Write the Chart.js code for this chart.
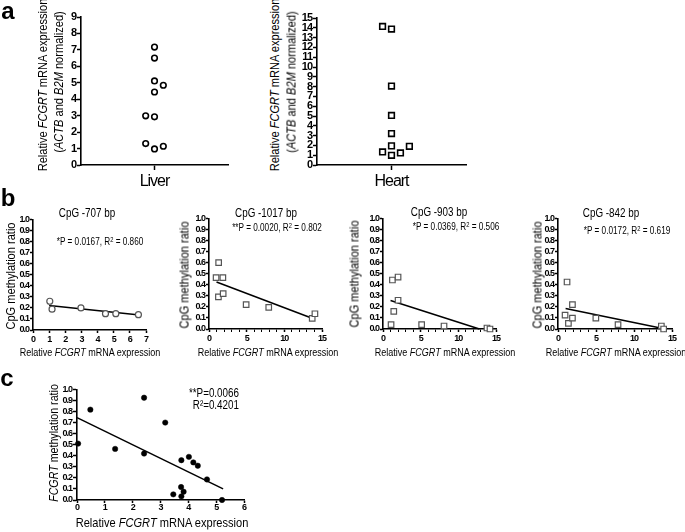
<!DOCTYPE html>
<html><head><meta charset="utf-8">
<script src="https://cdn.jsdelivr.net/npm/chart.js@4.4.1/dist/chart.umd.min.js"></script>
<style>
html,body{margin:0;padding:0;background:#fff;}
#root{position:relative;width:685px;height:532px;overflow:hidden;background:#fff;}
#root div.t{position:absolute;white-space:nowrap;line-height:1;color:#000;}
#root canvas{position:absolute;}
.sp{position:relative;top:-0.42em;font-size:0.7em;}
</style></head><body><div id="root"></div>
<script>
// ---------------- data ----------------
const tissueLabels = ['Liver', 'Heart'];
const liverExpr = [7.17, 6.50, 5.11, 4.85, 4.44, 2.99, 2.93, 1.30, 0.98, 1.14];
const liverCol  = [1, 1, 1, 1.12, 1, 0.88, 1, 0.88, 1, 1.12];
const heartExpr = [14.14, 13.87, 8.06, 5.06, 3.21, 1.95, 1.91, 1.33, 0.99, 1.23];
const heartCol  = [0.88, 1, 1, 1, 1, 1, 1.24, 0.88, 1, 1.12];

const cpgTitles = ['CpG -707 bp', 'CpG -1017 bp', 'CpG -903 bp', 'CpG -842 bp'];
const cpgStats = ['*P = 0.0167, R<span class="sp">2</span> = 0.860',
                  '**P = 0.0020, R<span class="sp">2</span> = 0.802',
                  '*P = 0.0369, R<span class="sp">2</span> = 0.506',
                  '*P = 0.0172, R<span class="sp">2</span> = 0.619'];

const cpg707X = [1.04, 1.18, 2.97, 4.49, 5.13, 6.53];
const cpg707Y = [0.26, 0.188, 0.20, 0.148, 0.148, 0.139];
const cpg707Fit = [[1.0, 0.222], [6.6, 0.135]];

const cpg1017X = [0.94, 1.84, 1.25, 1.88, 4.93, 7.93, 13.7, 14.06, 1.28];
const cpg1017Y = [0.464, 0.464, 0.29, 0.32, 0.22, 0.195, 0.096, 0.138, 0.60];
const cpg1017Fit = [[1.0, 0.425], [13.6, 0.10]];

const cpg903X = [1.25, 2.0, 2.0, 1.43, 1.07, 5.13, 8.1, 13.8, 14.2];
const cpg903Y = [0.443, 0.47, 0.26, 0.159, 0.039, 0.039, 0.027, 0.009, 0.0];
const cpg903Fit = [[1.0, 0.257], [12.8, 0.0]];

const cpg842X = [1.19, 0.93, 1.37, 1.9, 1.9, 4.98, 7.9, 13.6, 13.9];
const cpg842Y = [0.425, 0.126, 0.051, 0.22, 0.099, 0.099, 0.039, 0.027, 0.0];
const cpg842Fit = [[1.0, 0.185], [13.8, 0.005]];

const allExprX = [0.04, 0.48, 1.37, 2.41, 2.41, 3.17, 3.46, 3.75, 4.02, 4.18, 4.34, 3.74, 3.83, 3.75, 4.67, 5.21];
const allMethY = [0.51, 0.817, 0.462, 0.925, 0.42, 0.70, 0.051, 0.36, 0.39, 0.34, 0.31, 0.117, 0.075, 0.033, 0.186, 0.0];
const allFit = [[0.0, 0.745], [5.25, 0.10]];
const allStats = ['**P=0.0066', 'R²=0.4201'];

// ---------------- fonts ----------------
function detectNarrow() {
  const ctx = document.createElement('canvas').getContext('2d');
  const s = 'Relative FCGRT mRNA expression';
  ctx.font = "40px monospace"; const a = ctx.measureText(s).width;
  ctx.font = "40px 'Liberation Sans Narrow', monospace"; const b = ctx.measureText(s).width;
  return Math.abs(a - b) > 1;
}
const NARROW = detectNarrow();
const FAM = NARROW ? "'Liberation Sans Narrow', 'Liberation Sans', Arial, sans-serif" : "'Liberation Sans', Arial, sans-serif";
const SX = NARROW ? 1 : 0.82;
const LS = NARROW ? '0px' : '-1px';
const root = document.getElementById('root');

function label(html, x, y, size, o = {}) {
  const d = document.createElement('div');
  d.className = 't';
  d.innerHTML = html;
  const fam = o.wide ? "'Liberation Sans', Arial, sans-serif" : FAM;
  const sx = o.wide ? 1 : SX;
  const tr = o.right ? 'translate(-100%,-50%)' : 'translate(-50%,-50%)';
  d.style.left = x + 'px';
  d.style.top = y + 'px';
  d.style.font = (o.bold ? 'bold ' : '') + size + 'px ' + fam;
  d.style.transformOrigin = o.right ? '100% 50%' : '50% 50%';
  d.style.transform = tr + (o.rot ? ' rotate(-90deg)' : '') + ' scaleX(' + sx + ')';
  root.appendChild(d);
}

// ---------------- chart helpers ----------------
const BLACK = '#000';
const spacingPlugin = {
  id: 'tightText',
  beforeUpdate(ch) { ch.ctx.letterSpacing = LS; },
  beforeDraw(ch) { ch.ctx.letterSpacing = LS; }
};
function axis(o) {
  return {
    type: 'linear', min: o.min, max: o.max,
    ticks: {
      stepSize: o.step, autoSkip: false, color: BLACK, padding: o.pad, maxRotation: 0, minRotation: 0,
      font: { family: FAM, size: o.size, weight: o.weight || 'bold' },
      callback: o.cb
    },
    grid: { display: true, drawOnChartArea: false, drawTicks: true, tickLength: o.tl,
            tickColor: BLACK, tickWidth: o.tw || 1.5 },
    border: { display: true, color: BLACK, width: 1.6 }
  };
}
function toPts(xs, ys) { return xs.map((x, i) => ({ x: x, y: ys[i] })); }
function fitSet(f) {
  return { data: f.map(p => ({ x: p[0], y: p[1] })), showLine: true, pointRadius: 0,
           borderColor: BLACK, borderWidth: 1.5, clip: false };
}
function makeChart(r, datasets, xAx, yAx) {
  const W = (r.x1 - r.x0) + r.Lw + r.Rp, H = (r.y1 - r.y0) + r.Tp + r.Bh;
  const c = document.createElement('canvas');
  c.width = W; c.height = H;
  c.style.left = (r.x0 - r.Lw) + 'px'; c.style.top = (r.y0 - r.Tp) + 'px';
  c.style.width = W + 'px'; c.style.height = H + 'px';
  root.appendChild(c);
  xAx.afterFit = s => { s.height = r.Bh; };
  yAx.afterFit = s => { s.width = r.Lw; };
  new Chart(c, {
    type: 'scatter',
    data: { datasets: datasets },
    plugins: [spacingPlugin],
    options: {
      responsive: false, animation: false, events: [],
      layout: { padding: { left: 0, top: r.Tp, right: r.Rp, bottom: 0 } },
      plugins: { legend: { display: false }, tooltip: { enabled: false } },
      scales: { x: xAx, y: yAx }
    }
  });
}

// ---------------- panel a ----------------
function colAxis(name) {
  return axis({ min: 0, max: 2, step: 1, size: 16, weight: 'normal', tl: 5, pad: 2,
                cb: v => (v === 1 ? name : null) });
}
makeChart({ x0: 81, y0: 17, x1: 228, y1: 165, Lw: 40, Tp: 8, Rp: 6, Bh: 32 },
  [{ data: toPts(liverCol, liverExpr), pointStyle: 'circle', pointRadius: 2.8, pointBorderWidth: 1.6,
     pointBorderColor: BLACK, pointBackgroundColor: '#fff', clip: false }],
  colAxis(tissueLabels[0]),
  axis({ min: 0, max: 9, step: 1, size: 11, tl: 4, pad: 1, cb: v => v }));

makeChart({ x0: 317, y0: 18, x1: 466, y1: 165, Lw: 30, Tp: 8, Rp: 6, Bh: 32 },
  [{ data: toPts(heartCol, heartExpr), pointStyle: 'rect', pointRadius: 4.0, pointBorderWidth: 1.6,
     pointBorderColor: BLACK, pointBackgroundColor: '#fff', clip: false }],
  colAxis(tissueLabels[1]),
  axis({ min: 0, max: 15, step: 1, size: 11, tl: 4, pad: 1, cb: v => v }));

label('Relative <i>FCGRT</i> mRNA expression', 42, 85, 13.5, { rot: true });
label('(<i>ACTB</i> and <i>B2M</i> normalized)', 58, 82, 13.5, { rot: true });
label('Relative <i>FCGRT</i> mRNA expression', 273.5, 85, 13.5, { rot: true });
label('(<i>ACTB</i> and <i>B2M</i> normalized)', 290.5, 82, 13.5, { rot: true });

// ---------------- panel b ----------------
const cpgRects = [
  { x0: 33, y0: 219, x1: 146, y1: 330, Lw: 28, Tp: 6, Rp: 8, Bh: 18 },
  { x0: 209, y0: 218, x1: 322, y1: 329, Lw: 28, Tp: 6, Rp: 8, Bh: 18 },
  { x0: 383, y0: 218, x1: 496, y1: 329, Lw: 28, Tp: 6, Rp: 8, Bh: 18 },
  { x0: 558, y0: 218, x1: 672, y1: 329, Lw: 28, Tp: 6, Rp: 8, Bh: 18 }
];
const cpgData = [[cpg707X, cpg707Y, cpg707Fit, 7], [cpg1017X, cpg1017Y, cpg1017Fit, 15],
                 [cpg903X, cpg903Y, cpg903Fit, 15], [cpg842X, cpg842Y, cpg842Fit, 15]];
cpgData.forEach((d, i) => {
  const isLiver = i === 0;
  const xmax = d[3];
  makeChart(cpgRects[i],
    [{ data: toPts(d[0], d[1]), pointStyle: isLiver ? 'circle' : 'rect',
       pointRadius: isLiver ? 3 : 3.9, pointBorderWidth: 1.2, pointBorderColor: '#555',
       pointBackgroundColor: '#fff', clip: false },
     fitSet(d[2])],
    axis({ min: 0, max: xmax, step: 1, size: 9, tl: 3, pad: 1,
           tw: ctx => (xmax === 7 || (ctx.tick && ctx.tick.value % 5 === 0)) ? 1.5 : 1,
           cb: v => (xmax === 7 || v % 5 === 0) ? v : '' }),
    axis({ min: 0, max: 1, step: 0.1, size: 9, tl: 3, pad: 1, cb: v => v.toFixed(1) }));
});
const cpgTitlePos = [[87, 213], [266, 213], [439, 212], [611, 213]];
const cpgStatPos = [[100, 241], [277, 227], [456, 226], [627, 230]];
const cpgYLabPos = [[10, 276], [184, 275], [354, 274], [537, 275]];
const cpgXLabPos = [[90, 352], [268, 352], [445, 352], [616, 352]];
for (let i = 0; i < 4; i++) {
  label(cpgTitles[i], cpgTitlePos[i][0], cpgTitlePos[i][1], 12);
  label(cpgStats[i], cpgStatPos[i][0], cpgStatPos[i][1], 10);
  label('CpG methylation ratio', cpgYLabPos[i][0], cpgYLabPos[i][1], 13.5, { rot: true });
  label('Relative <i>FCGRT</i> mRNA expression', cpgXLabPos[i][0], cpgXLabPos[i][1], 11);
}

// ---------------- panel c ----------------
makeChart({ x0: 77, y0: 389, x1: 244, y1: 500, Lw: 26, Tp: 6, Rp: 8, Bh: 16 },
  [{ data: toPts(allExprX, allMethY), pointStyle: 'circle', pointRadius: 2.7, pointBorderWidth: 0.5,
     pointBorderColor: BLACK, pointBackgroundColor: BLACK, clip: false },
   fitSet(allFit)],
  axis({ min: 0, max: 6, step: 1, size: 9, tl: 3, pad: -1, cb: v => v }),
  axis({ min: 0, max: 1, step: 0.1, size: 9, tl: 4, pad: 1, cb: v => v.toFixed(1) }));
label(allStats[0], 239, 393, 12, { right: true });
label(allStats[1], 239, 405, 12, { right: true });
label('<i>FCGRT</i> methylation ratio', 53, 443, 13, { rot: true });
label('Relative <i>FCGRT</i> mRNA expression', 162, 522, 13.5);

// ---------------- panel letters ----------------
label('a', 8, 11, 24, { bold: true, wide: true });
label('b', 8, 198, 24, { bold: true, wide: true });
label('c', 7, 378, 24, { bold: true, wide: true });
</script></body></html>
